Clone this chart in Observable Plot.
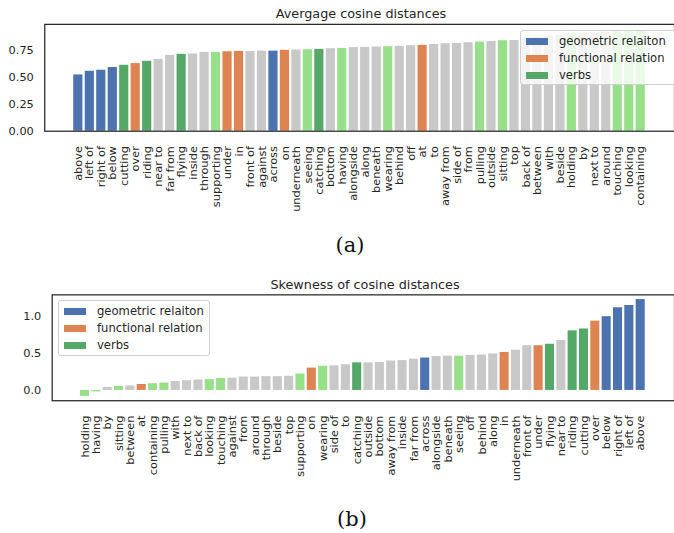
<!DOCTYPE html>
<html>
<head>
<meta charset="utf-8">
<script src="https://cdn.jsdelivr.net/npm/d3@7"></script>
<script src="https://cdn.jsdelivr.net/npm/@observablehq/plot@0.6"></script>
<style>
  html, body { margin: 0; padding: 0; background: #fff; }
  #wrap { position: relative; width: 674px; height: 533px; overflow: hidden; font-family: "DejaVu Sans", sans-serif; color: #262626; }
  .title { position: absolute; transform: translate(-50%, -50%); font-size: 12.8px; white-space: nowrap; }
  .cap { position: absolute; transform: translate(-50%, -50%); font-family: "DejaVu Serif", serif; font-size: 21px; color: #111; }
  .legend { position: absolute; background: rgba(255,255,255,0.8); border: 1px solid #d0d0d0; border-radius: 3px; box-sizing: border-box; font-size: 11.6px; }
  .legend .row { position: absolute; left: 0; height: 17px; line-height: 17px; white-space: nowrap; }
  .legend .sw { position: absolute; width: 22px; height: 7px; top: 5px; }
  .legend .lb { position: absolute; top: 0; }
</style>
</head>
<body>
<div id="wrap"></div>
<script>
// ---- data ----
const catsA = ["above","left of","right of","below","cutting","over","riding","near to","far from","flying","inside","through","supporting","under","in","front of","against","across","on","underneath","seeing","catching","bottom","having","alongside","along","beneath","wearing","behind","off","at","to","away from","side of","from","pulling","outside","sitting","top","back of","between","with","beside","holding","by","next to","around","touching","looking","containing"];
const valsA = [0.524,0.558,0.568,0.593,0.614,0.630,0.651,0.669,0.706,0.716,0.719,0.734,0.734,0.740,0.743,0.743,0.746,0.746,0.753,0.756,0.759,0.762,0.768,0.771,0.778,0.780,0.784,0.787,0.790,0.796,0.799,0.808,0.815,0.818,0.824,0.830,0.836,0.843,0.845,0.870,0.880,0.890,0.895,0.905,0.910,0.915,0.920,0.925,0.930,0.935];

const catsB = ["holding","having","by","sitting","between","at","containing","pulling","with","next to","back of","looking","touching","against","from","around","through","beside","top","supporting","on","wearing","side of","to","catching","outside","bottom","away from","inside","far from","across","alongside","beneath","seeing","off","behind","along","in","underneath","front of","under","flying","near to","riding","cutting","over","below","right of","left of","above"];
const valsB = [-0.08,-0.02,0.04,0.055,0.06,0.08,0.09,0.10,0.12,0.13,0.14,0.145,0.16,0.165,0.18,0.18,0.185,0.185,0.19,0.22,0.30,0.325,0.33,0.345,0.37,0.37,0.375,0.395,0.40,0.42,0.435,0.455,0.46,0.46,0.47,0.475,0.49,0.51,0.54,0.60,0.60,0.62,0.67,0.80,0.825,0.93,0.99,1.11,1.14,1.22];

const geometric = ["above","left of","right of","below","across"];
const functional = ["over","under","in","on","at"];
const verbsDark = ["cutting","riding","flying","catching"];
const verbsLight = ["supporting","seeing","having","wearing","pulling","sitting","holding","touching","looking","containing"];

const classNames = ["geometric","functional","verbsDark","verbsLight","other"];
const classColors = ["#4C72B0","#DD8452","#55A868","#98df8a","#c8c8c8"];
const legendLabels = ["geometric relaiton","functional relation","verbs"];
const ticksA = [0, 0.25, 0.5, 0.75];
const ticksB = [0, 0.5, 1.0];

function classOf(c) {
  if (geometric.includes(c)) return "geometric";
  if (functional.includes(c)) return "functional";
  if (verbsDark.includes(c)) return "verbsDark";
  if (verbsLight.includes(c)) return "verbsLight";
  return "other";
}

const dataA = catsA.map((c, i) => ({cat: c, val: valsA[i], cls: classOf(c)}));
const dataB = catsB.map((c, i) => ({cat: c, val: valsB[i], cls: classOf(c)}));

const wrap = document.getElementById("wrap");

function makeChart({data, cats, xRange, yDomain, ticks, fmt, top, marginLeft, marginTop, marginBottom, height}) {
  const chart = Plot.plot({
    width: 678,
    height,
    marginLeft,
    marginRight: 0,
    marginTop,
    marginBottom,
    style: {fontFamily: "DejaVu Sans, sans-serif", fontSize: "11.4px", color: "#262626", background: "transparent"},
    x: {domain: cats, range: xRange, paddingInner: 0.2, paddingOuter: 0.1, round: false, axis: null},
    y: {domain: yDomain, axis: null},
    color: {domain: classNames, range: classColors},
    marks: [
      Plot.barY(data, {x: "cat", y: "val", fill: "cls"}),
      Plot.axisY({ticks, tickFormat: d3.format(fmt), tickSize: 0, tickPadding: 11, label: null, fontSize: 11.4}),
      Plot.axisX({tickRotate: -90, tickSize: 0, tickPadding: 15, label: null, fontSize: 11.4}),
      Plot.frame({stroke: "#262626", strokeWidth: 1.25})
    ]
  });
  chart.style.position = "absolute";
  chart.style.left = "0px";
  chart.style.top = top + "px";
  wrap.appendChild(chart);
}

makeChart({data: dataA, cats: catsA, xRange: [72.5, 649.8], yDomain: [0, 0.995], ticks: ticksA, fmt: ".2f",
  top: 0, marginLeft: 44.5, marginTop: 24, marginBottom: 83.5, height: 215});
makeChart({data: dataB, cats: catsB, xRange: [79.3, 649.7], yDomain: [-0.138, 1.283], ticks: ticksB, fmt: ".1f",
  top: 270, marginLeft: 52, marginTop: 24.5, marginBottom: 84, height: 215});

function addText(cls, text, x, y) {
  const d = document.createElement("div");
  d.className = cls;
  d.textContent = text;
  d.style.left = x + "px";
  d.style.top = y + "px";
  wrap.appendChild(d);
}
addText("title", "Avergage cosine distances", 361, 13);
addText("title", "Skewness of cosine distances", 365, 283.5);
addText("cap", "(a)", 350, 245);
addText("cap", "(b)", 352, 519);

function addLegend(left, top, width, height, swLeft, txtLeft, rowTops) {
  const lg = document.createElement("div");
  lg.className = "legend";
  Object.assign(lg.style, {left: left + "px", top: top + "px", width: width + "px", height: height + "px"});
  legendLabels.forEach((lab, i) => {
    const row = document.createElement("div");
    row.className = "row";
    row.style.top = rowTops[i] + "px";
    const sw = document.createElement("div");
    sw.className = "sw";
    sw.style.left = swLeft + "px";
    sw.style.background = classColors[i];
    const lb = document.createElement("div");
    lb.className = "lb";
    lb.style.left = txtLeft + "px";
    lb.textContent = lab;
    row.appendChild(sw); row.appendChild(lb);
    lg.appendChild(row);
  });
  wrap.appendChild(lg);
}
addLegend(520, 30, 160, 55, 5, 38, [1.5, 18.5, 35.5]);
addLegend(58, 300, 152, 56, 5, 38, [1.5, 18.8, 36]);
</script>
</body>
</html>
